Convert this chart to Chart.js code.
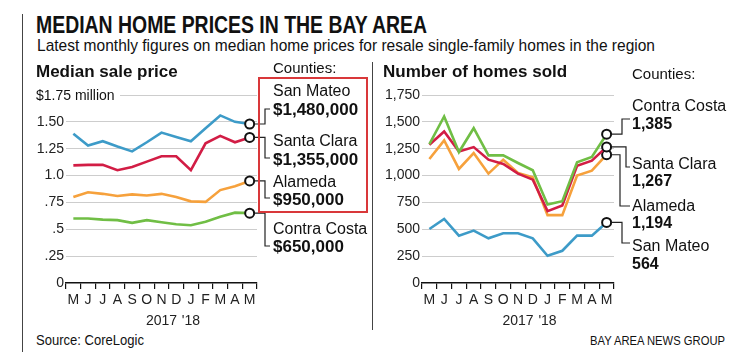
<!DOCTYPE html>
<html>
<head>
<meta charset="utf-8">
<script src="https://cdn.jsdelivr.net/npm/chart.js@4"></script>
<style>
  body { margin: 0; background: #fff; width: 745px; height: 359px; overflow: hidden; position: relative; font-family: "Liberation Sans", Arial, sans-serif; color: #111; }
  .t { position: absolute; white-space: nowrap; line-height: 1; }
  .b { font-weight: bold; }
  canvas { position: absolute; }
  .rule { position: absolute; background: #444; width: 1px; }
</style>
</head>
<body>
<div class="rule" style="left:22px;top:14px;height:338px"></div>
<div class="rule" style="left:372px;top:62px;height:268px"></div>

<div class="t b" data-fit="391" style="left:36px;top:14px;font-size:23px">MEDIAN HOME PRICES IN THE BAY AREA</div>
<div class="t" data-fit="618" style="left:37px;top:37px;font-size:17px">Latest monthly figures on median home prices for resale single-family homes in the region</div>

<canvas id="priceChart" width="275" height="250" style="left:0;top:80px;width:275px;height:250px"></canvas>
<canvas id="soldChart" width="263" height="250" style="left:372px;top:80px;width:263px;height:250px"></canvas>

<div class="t b" style="left:36px;top:63px;font-size:17px">Median sale price</div>
<div class="t" style="left:36px;top:88px;font-size:14px;background:#fff;padding-right:5px">$1.75 million</div>
<div class="t b" style="left:383px;top:63px;font-size:17px">Number of homes sold</div>

<!-- left annotations -->
<div class="t" style="left:273px;top:60px;font-size:15px">Counties:</div>
<div style="position:absolute;left:258px;top:77px;width:106px;height:132px;border:2px solid #d9383a"></div>
<div class="t" style="left:273px;top:83px;font-size:16px">San Mateo</div>
<div class="t b" style="left:273px;top:101px;font-size:17px">$1,480,000</div>
<div class="t" style="left:273px;top:133px;font-size:16px">Santa Clara</div>
<div class="t b" style="left:273px;top:151px;font-size:17px">$1,355,000</div>
<div class="t" style="left:273px;top:174px;font-size:16px">Alameda</div>
<div class="t b" style="left:273px;top:191px;font-size:17px">$950,000</div>
<div class="t" style="left:273px;top:221px;font-size:16px">Contra Costa</div>
<div class="t b" style="left:273px;top:238px;font-size:17px">$650,000</div>

<!-- right annotations -->
<div class="t" style="left:632px;top:66px;font-size:15px">Counties:</div>
<div class="t" style="left:632px;top:98px;font-size:16px">Contra Costa</div>
<div class="t b" style="left:632px;top:116px;font-size:16px">1,385</div>
<div class="t" style="left:632px;top:156px;font-size:16px">Santa Clara</div>
<div class="t b" style="left:632px;top:173px;font-size:16px">1,267</div>
<div class="t" style="left:632px;top:198px;font-size:16px">Alameda</div>
<div class="t b" style="left:632px;top:215px;font-size:16px">1,194</div>
<div class="t" style="left:632px;top:238px;font-size:16px">San Mateo</div>
<div class="t b" style="left:632px;top:256px;font-size:16px">564</div>

<div class="t" data-fit="108" style="left:36px;top:333px;font-size:14px">Source: CoreLogic</div>
<div class="t" data-fit="135" style="left:590px;top:334px;font-size:13px">BAY AREA NEWS GROUP</div>

<script>
// months May 2017 - May 2018
var months = ['M', 'J', 'J', 'A', 'S', 'O', ['N', '2017'], 'D', ['J', "'18"], 'F', 'M', 'A', 'M'];

// median sale price, $ millions
var sanMateoPrice    = [1.39, 1.28, 1.32, 1.27, 1.225, 1.31, 1.40, 1.36, 1.32, 1.44, 1.56, 1.50, 1.48];
var santaClaraPrice  = [1.095, 1.10, 1.10, 1.05, 1.08, 1.13, 1.18, 1.18, 1.05, 1.30, 1.37, 1.31, 1.355];
var alamedaPrice     = [0.80, 0.845, 0.83, 0.81, 0.825, 0.815, 0.83, 0.80, 0.76, 0.755, 0.865, 0.90, 0.95];
var contraCostaPrice = [0.60, 0.60, 0.59, 0.585, 0.56, 0.585, 0.566, 0.547, 0.538, 0.57, 0.617, 0.655, 0.65];
var priceTicks = {0: '0', 0.25: '.25', 0.5: '.5', 0.75: '.75', 1: '1.0', 1.25: '1.25', 1.5: '1.50', 1.75: ''};

// number of homes sold
var contraCostaSold = [1293, 1550, 1219, 1441, 1188, 1188, 1117, 1049, 730, 761, 1123, 1173, 1385];
var santaClaraSold  = [1287, 1411, 1225, 1265, 1148, 1108, 1018, 962, 669, 722, 1092, 1139, 1267];
var alamedaSold     = [1154, 1327, 1062, 1210, 1018, 1148, 1024, 984, 632, 632, 1000, 1046, 1194];
var sanMateoSold    = [503, 597, 441, 488, 416, 463, 463, 416, 253, 300, 441, 441, 564];

var BLUE = '#3d9bc8', RED = '#d21d45', ORANGE = '#f6a13c', GREEN = '#70be45';

// fit condensed headline texts to their width
document.querySelectorAll('[data-fit]').forEach(function (el) {
  el.style.display = 'inline-block';
  var w = el.getBoundingClientRect().width;
  el.style.transformOrigin = 'left top';
  el.style.transform = 'scaleX(' + (parseFloat(el.dataset.fit) / w) + ')';
});

// elbow lines from the last point to the county labels
var connectors = {
  id: 'connectors',
  afterDatasetsDraw: function (chart, args, opts) {
    var c = chart.ctx, ox = chart.canvas.offsetLeft, oy = chart.canvas.offsetTop;
    c.save();
    c.strokeStyle = '#222';
    c.lineWidth = 1.2;
    opts.links.forEach(function (l, i) {
      var pts = chart.getDatasetMeta(i).data;
      var p = pts[pts.length - 1];
      c.beginPath();
      c.moveTo(p.x + 5, p.y);
      c.lineTo(l.elbow - ox, p.y);
      c.lineTo(l.elbow - ox, l.y - oy);
      c.lineTo(l.end - ox, l.y - oy);
      c.stroke();
    });
    c.restore();
  }
};

function series(label, data, color) {
  return {
    label: label,
    data: data,
    borderColor: color,
    borderWidth: 2.6,
    tension: 0,
    pointRadius: function (ctx) { return ctx.dataIndex === data.length - 1 ? 4.5 : 0; },
    pointBorderColor: '#111',
    pointBackgroundColor: '#fff',
    pointBorderWidth: 2
  };
}

function baseOptions(yMax, yStep, yWidth, tickFmt, padRight, links) {
  return {
    responsive: false,
    animation: false,
    layout: { padding: { top: 15, right: padRight, left: 0, bottom: 0 } },
    plugins: { legend: { display: false }, tooltip: { enabled: false }, connectors: { links: links } },
    scales: {
      x: {
        offset: true,
        afterFit: function (s) { s.height = 47; },
        grid: { offset: true, drawOnChartArea: false, drawTicks: true, tickLength: 6, color: '#111', lineWidth: 1.2 },
        border: { display: true, color: '#111', width: 1.6 },
        ticks: { autoSkip: false, maxRotation: 0, padding: 1, color: '#222', font: { family: 'Liberation Sans', size: 14, lineHeight: 1.5 } }
      },
      y: {
        min: 0,
        max: yMax,
        afterFit: function (s) { s.width = yWidth; },
        grid: { drawTicks: false, color: function (ctx) { return ctx.tick && ctx.tick.value === 0 ? 'rgba(0,0,0,0)' : '#cdcdcd'; }, lineWidth: 1 },
        border: { display: false },
        ticks: { stepSize: yStep, padding: 2, color: '#222', font: { family: 'Liberation Sans', size: 14 }, callback: tickFmt }
      }
    }
  };
}

new Chart(document.getElementById('priceChart'), {
  type: 'line',
  data: {
    labels: months,
    datasets: [
      series('San Mateo', sanMateoPrice, BLUE),
      series('Santa Clara', santaClaraPrice, RED),
      series('Alameda', alamedaPrice, ORANGE),
      series('Contra Costa', contraCostaPrice, GREEN)
    ]
  },
  options: baseOptions(1.75, 0.25, 66, function (v) { return priceTicks[Math.round(v * 100) / 100]; }, 18, [
    { elbow: 265, y: 109, end: 270 },
    { elbow: 265, y: 158, end: 270 },
    { elbow: 265, y: 198, end: 270 },
    { elbow: 265, y: 246, end: 270 }
  ]),
  plugins: [connectors]
});

new Chart(document.getElementById('soldChart'), {
  type: 'line',
  data: {
    labels: months,
    datasets: [
      series('Contra Costa', contraCostaSold, GREEN),
      series('Santa Clara', santaClaraSold, RED),
      series('Alameda', alamedaSold, ORANGE),
      series('San Mateo', sanMateoSold, BLUE)
    ]
  },
  options: baseOptions(1750, 250, 50, function (v) { return v.toLocaleString('en-US'); }, 21, [
    { elbow: 622, y: 119, end: 630 },
    { elbow: 626, y: 167, end: 630 },
    { elbow: 620, y: 206, end: 630 },
    { elbow: 622, y: 243, end: 630 }
  ]),
  plugins: [connectors]
});
</script>
</body>
</html>
